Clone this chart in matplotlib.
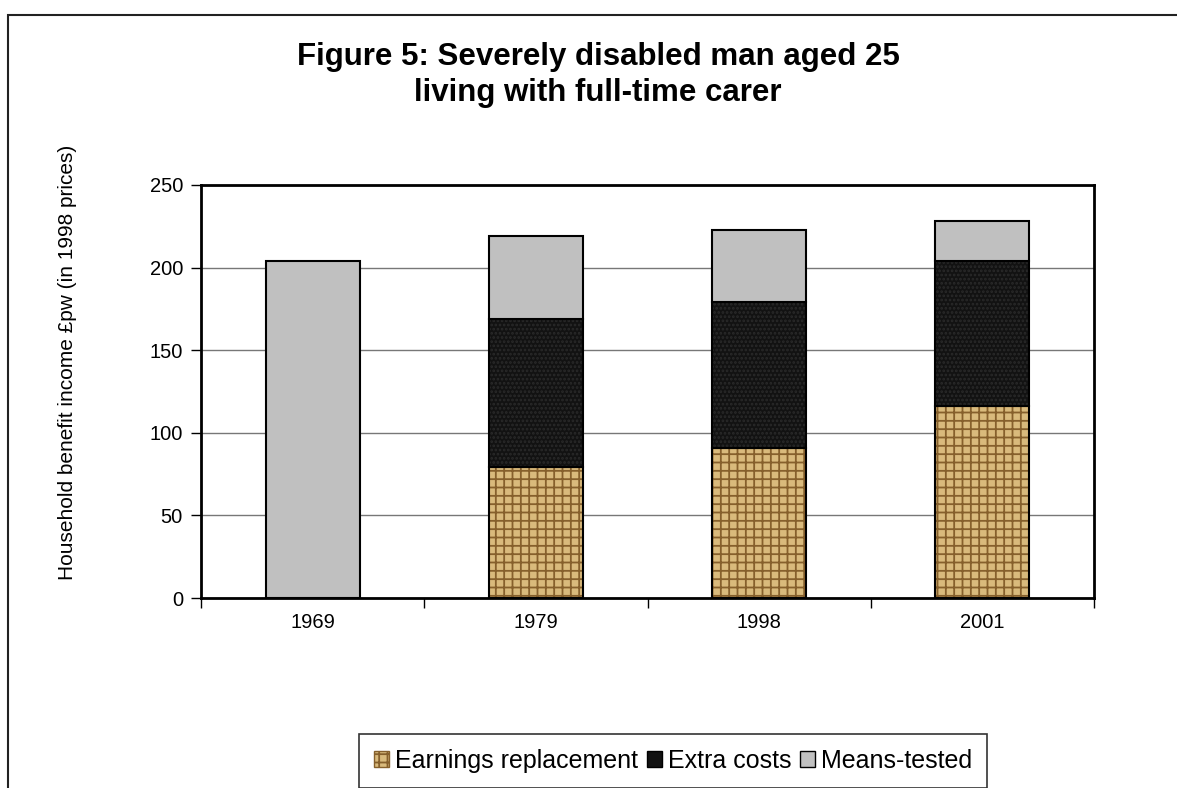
import matplotlib.pyplot as plt
import matplotlib.patches as mpatches
import numpy as np

plt.rcParams['font.family'] = ['Liberation Sans', 'DejaVu Sans']
plt.rcParams['hatch.linewidth'] = 1.3

years = ['1969', '1979', '1998', '2001']
earnings = [0, 79, 91, 116]
extra = [0, 90, 88, 88]
means_tested = [204, 50, 44, 24]

W, H = 1177, 788
fig = plt.figure(figsize=(W / 100, H / 100), dpi=100)

# outer chart frame (runs off right and bottom edges)
frame = mpatches.Rectangle((8 / W, -0.1), 1.2, 1 - 15 / H + 0.1, transform=fig.transFigure,
                           fill=False, edgecolor='#222222', linewidth=1.5)
fig.patches.append(frame)

ax = fig.add_axes([201 / W, 1 - 598 / H, (1094 - 201) / W, (598 - 185) / H])
x = np.arange(len(years))
width = 0.42

e = np.array(earnings)
ex = np.array(extra)
m = np.array(means_tested)

# earnings replacement: tan texture, drawn as hatch then outline
ax.bar(x, e, width, color='#d9ba7c', hatch='++', edgecolor='#86602c', linewidth=0, zorder=2)
ax.bar(x, e, width, fill=False, edgecolor='black', linewidth=1.5, zorder=3)
ax.bar(x, ex, width, bottom=e, color='#121212', hatch='....', edgecolor='#2a2a2a', linewidth=0, zorder=2)
ax.bar(x, ex, width, bottom=e, fill=False, edgecolor='black', linewidth=1.5, zorder=3)
ax.bar(x, m, width, bottom=e + ex, color='#c0c0c0', edgecolor='black', linewidth=1.5, zorder=3)

ax.set_xlim(-0.5, len(years) - 0.5)
ax.set_ylim(0, 250)
ax.set_yticks(np.arange(0, 251, 50))
ax.yaxis.grid(True, color='#777777', linewidth=1)
ax.set_axisbelow(True)
ax.set_xticks(x)
ax.set_xticklabels(years)
ax.set_xticks(np.arange(-0.5, len(years), 1), minor=True)
ax.tick_params(axis='x', which='major', length=0, pad=11, labelsize=14.5)
ax.tick_params(axis='x', which='minor', length=7, width=1, direction='out')
ax.tick_params(axis='y', length=7, width=1, direction='out', labelsize=14.5, pad=6)
for s in ax.spines.values():
    s.set_linewidth(2)
    s.set_color('black')

fig.text(68 / W, 1 - 362 / H, 'Household benefit income £pw (in 1998 prices)', rotation=90,
         ha='center', va='center', fontsize=15)

fig.text(598 / W, 1 - 57 / H, 'Figure 5: Severely disabled man aged 25',
         ha='center', va='center', fontsize=22.5, fontweight='bold')
fig.text(598 / W, 1 - 93 / H, 'living with full-time carer',
         ha='center', va='center', fontsize=22.5, fontweight='bold')

handles = [
    mpatches.Patch(facecolor='#d9ba7c', hatch='++', edgecolor='#86602c', label='Earnings replacement'),
    mpatches.Patch(facecolor='#121212', edgecolor='black', label='Extra costs'),
    mpatches.Patch(facecolor='#c0c0c0', edgecolor='black', label='Means-tested'),
]
leg = fig.legend(handles=handles, loc='upper center', bbox_to_anchor=(673 / W, 1 - 734 / H), ncol=3,
                 fontsize=18, frameon=True, fancybox=False, handlelength=0.6, handleheight=0.6,
                 handletextpad=0.25, columnspacing=0.35, borderpad=0.6, borderaxespad=0)
leg.get_frame().set_edgecolor('black')
leg.get_frame().set_linewidth(1.2)

fig.savefig('out.png', dpi=100)
